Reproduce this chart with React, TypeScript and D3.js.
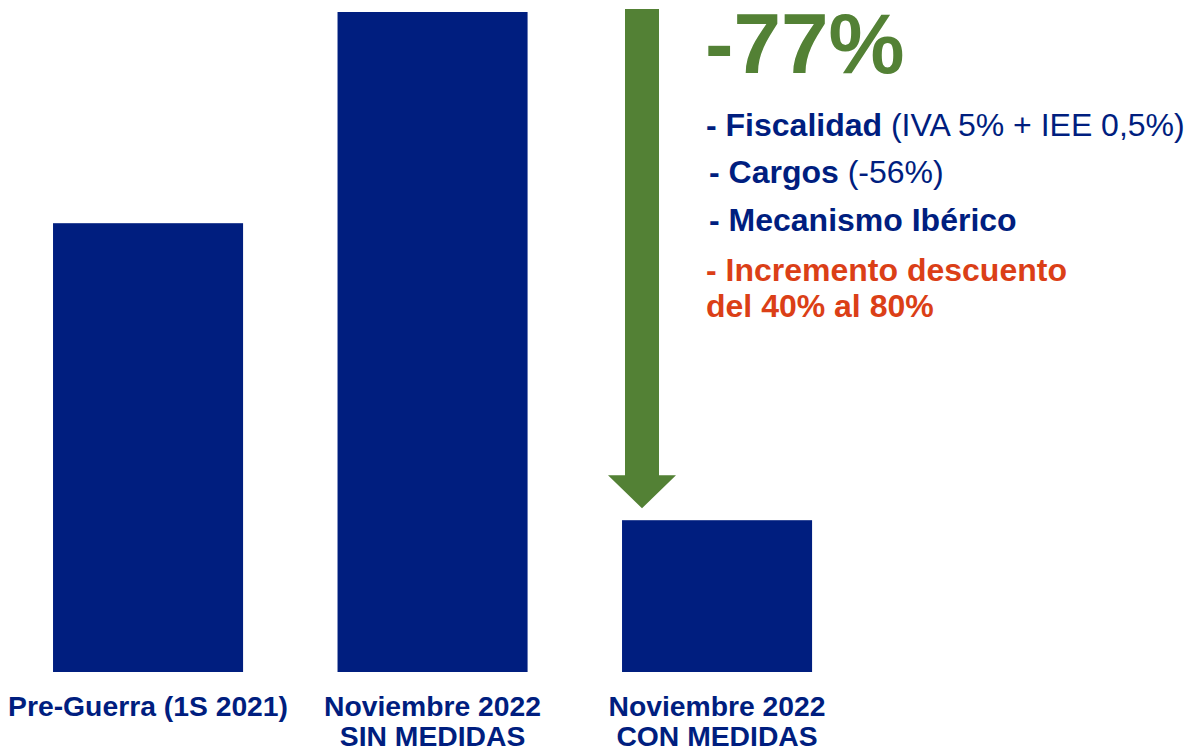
import React from "react";
import * as d3 from "d3";

const categories = ["Pre-Guerra (1S 2021)", "Noviembre 2022|SIN MEDIDAS", "Noviembre 2022|CON MEDIDAS"];
const values = [68, 100, 23];
const changeLabel = "-77%";
const notes = [
  { bold: "- Fiscalidad", rest: " (IVA 5% + IEE 0,5%)", color: "navy" },
  { bold: "- Cargos", rest: " (-56%)", color: "navy" },
  { bold: "- Mecanismo Ibérico", rest: "", color: "navy" },
  { bold: "- Incremento descuento", rest: "", color: "red" },
  { bold: "del 40% al 80%", rest: "", color: "red" },
];

const W = 1191;
const H = 751;
const NAVY = "#001E7F";
const GREEN = "#538135";
const RED = "#DB3F17";
const FONT = "'Liberation Sans', Arial, sans-serif";

export default function App() {
  const x = d3.scaleBand<string>().domain(categories).range([5.8, 859.3]).paddingInner(0.332).paddingOuter(0.166);
  const y = d3.scaleLinear().domain([0, 100]).range([672, 12]);
  const bw = x.bandwidth();

  // arrow between bar 2 top and bar 3 top, positioned over bar 3
  const cx = 642;
  const topY = y(values[1]) - 3;
  const tipY = y(values[2]) - 12;
  const headBase = tipY - 33;
  const shaftHalf = 17;
  const headHalf = 34;
  const arrowPath = d3.path();
  arrowPath.moveTo(cx - shaftHalf, topY);
  arrowPath.lineTo(cx + shaftHalf, topY);
  arrowPath.lineTo(cx + shaftHalf, headBase);
  arrowPath.lineTo(cx + headHalf, headBase);
  arrowPath.lineTo(cx, tipY);
  arrowPath.lineTo(cx - headHalf, headBase);
  arrowPath.lineTo(cx - shaftHalf, headBase);
  arrowPath.closePath();

  const noteX = [706, 709, 709, 706, 706];
  const noteY = [136, 183, 231, 281, 317];

  return (
    <svg width={W} height={H} style={{ position: "fixed", left: 0, top: 0, background: "#fff" }} fontFamily={FONT}>
      <rect x={0} y={0} width={W} height={H} fill="#fff" />
      {categories.map((c, i) => (
        <rect key={c} x={x(c)} y={y(values[i])} width={bw} height={y(0) - y(values[i])} fill={NAVY} />
      ))}
      {categories.map((c) => {
        const lines = c.split("|");
        return (
          <text key={"l" + c} x={(x(c) as number) + bw / 2} textAnchor="middle" fontWeight="bold" fontSize={28.3} fill={NAVY}>
            {lines.map((ln, j) => (
              <tspan key={j} x={(x(c) as number) + bw / 2} y={716 + j * 30}>
                {ln}
              </tspan>
            ))}
          </text>
        );
      })}
      <path d={arrowPath.toString()} fill={GREEN} />
      <text x={705} y={73} fontSize={85.5} fontWeight="bold" fill={GREEN}>
        {changeLabel}
      </text>
      {notes.map((n, i) => (
        <text key={i} x={noteX[i]} y={noteY[i]} fontSize={32} fill={n.color === "red" ? RED : NAVY}>
          <tspan fontWeight="bold">{n.bold}</tspan>
          {n.rest && <tspan>{n.rest}</tspan>}
        </text>
      ))}
    </svg>
  );
}
